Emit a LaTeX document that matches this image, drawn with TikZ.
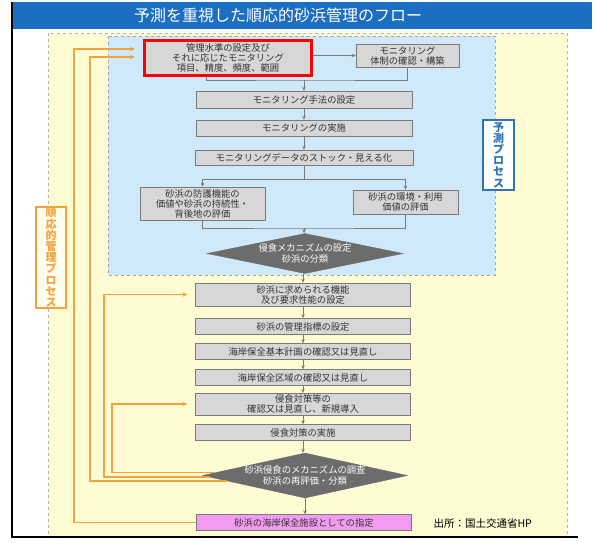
\documentclass[tikz,border=0pt]{standalone}
\usepackage{fontspec}
\setmainfont{Noto Sans CJK JP}
\usetikzlibrary{arrows.meta,calc,shapes.geometric}
\definecolor{titleblue}{HTML}{1C6EC3}
\definecolor{predblue}{HTML}{CFE8FA}
\definecolor{adaptyel}{HTML}{FFFBD3}
\definecolor{boxgray}{HTML}{D7D7D7}
\definecolor{diagray}{HTML}{6C6C6C}
\definecolor{linegray}{HTML}{7A7A7A}
\definecolor{lineor}{HTML}{F4A23C}
\definecolor{facpink}{HTML}{F29BF0}
\definecolor{labblue}{HTML}{2F73B8}
\tikzset{
  stepbox/.style 2 args={draw=linegray,fill=boxgray,text=black!80,align=center,
    font=\fontsize{9.3}{10}\selectfont,inner sep=1pt,minimum width=#1,minimum height=#2},
  decision/.style 2 args={diamond,draw=diagray,fill=diagray,inner sep=0pt,
    minimum width=#1,minimum height=#2},
  dtext/.style={text=white,align=center,font=\fontsize{9.3}{10.5}\selectfont},
  gline/.style={draw=linegray,line width=0.9pt},
  garrow/.style={gline,-{Stealth[length=4pt,width=3.5pt]}},
  orln/.style={draw=lineor,line width=1.8pt,-{Stealth[length=5pt,width=4.5pt]},shorten >=8pt},
  vlabel/.style={fill=white,line width=1.3pt,align=center,inner sep=1pt,
    font=\fontsize{11}{11.2}\selectfont\bfseries}
}

\begin{document}
\begin{tikzpicture}[x=1pt,y=-1pt]
\useasboundingbox (0,0) rectangle (596,542);
\fill[white] (0,0) rectangle (596,542);
\filldraw[fill=adaptyel,draw=gray!60,dashed] (48,33) rectangle (567,537);
\filldraw[fill=predblue,draw=gray!70,dashed] (108,36) rectangle (495,275);
\fill[titleblue] (12,2) rectangle (592,29);
\node[text=white,font=\fontsize{16}{18}\selectfont] (title) at (278,15.5) {予測を重視した順応的砂浜管理のフロー};
\draw[line width=1.5pt] (12,2) -- (12,537) -- (578,537);

\node[vlabel,draw=labblue,text=labblue,minimum width=31,minimum height=70] (predlab) at (498.5,155) {予\\測\\プ\\ロ\\セ\\ス};
\node[vlabel,draw=lineor,text=lineor,fill=white!60!adaptyel,minimum width=30,minimum height=101] (adaptlab) at (51,257.5) {順\\応\\的\\管\\理\\プ\\ロ\\セ\\ス};

\node[stepbox={167}{35},draw=red,line width=3pt] (mgmt) at (228,58) {管理水準の設定及び\\それに応じたモニタリング\\項目、精度、頻度、範囲};
\node[stepbox={103}{23}] (taisei) at (407.5,55.5) {モニタリング\\体制の確認・構築};
\node[stepbox={216}{17}] (shuho) at (304,99.5) {モニタリング手法の設定};
\node[stepbox={216}{16}] (jisshi) at (304,128) {モニタリングの実施};
\node[stepbox={218}{15}] (stock) at (304,157.5) {モニタリングデータのストック・見える化};
\node[stepbox={125}{33}] (bougo) at (202.5,203.5) {砂浜の防護機能の\\価値や砂浜の持続性・\\背後地の評価};
\node[stepbox={105}{24}] (kankyo) at (405.5,202) {砂浜の環境・利用\\価値の評価};
\node[decision={196}{40},label={[dtext]center:侵食メカニズムの設定\\砂浜の分類}] (dia1) at (305,253.5) {};
\node[stepbox={215}{23}] (kinou) at (303,294.5) {砂浜に求められる機能\\及び要求性能の設定};
\node[stepbox={215}{16}] (shihyo) at (303,326.5) {砂浜の管理指標の設定};
\node[stepbox={215}{16}] (kihon) at (303,351.5) {海岸保全基本計画の確認又は見直し};
\node[stepbox={215}{16}] (kuiki) at (303,377.5) {海岸保全区域の確認又は見直し};
\node[stepbox={215}{22}] (taisaku) at (303,404) {侵食対策等の\\確認又は見直し、新規導入};
\node[stepbox={215}{16}] (taisakujis) at (303,432.5) {侵食対策の実施};
\node[decision={205}{45},label={[dtext]center:砂浜侵食のメカニズムの調査\\砂浜の再評価・分類}] (dia2) at (305,475.5) {};
\node[stepbox={215}{16},fill=facpink] (shitei) at (304,522.5) {砂浜の海岸保全施設としての指定};
\node[anchor=west,font=\fontsize{10.5}{12}\selectfont] (source) at (430,524) {出所：国土交通省HP};

\coordinate (j1) at (304,80);
\coordinate (j2) at (304,179);
\coordinate (j3) at (304,228);
\draw[garrow] (taisei.west -| mgmt.east) -- (taisei.west);
\draw[gline] ($(mgmt.south)+(-22,0)$) |- (j1) -| (taisei.south);
\draw[garrow] (j1) -- (shuho.north);
\draw[gline] (stock.south) -- (j2);
\draw[garrow] (j2) -| (bougo.north);
\draw[garrow] (j2) -| (kankyo.north);
\draw[gline] (bougo.south) |- (j3) -| (kankyo.south);
\draw[garrow] (j3) -- (j3 |- dia1.north);
\draw[garrow] (kinou.north |- dia1.south) -- (kinou.north);
\foreach \a/\b in {shuho/jisshi,jisshi/stock,kinou/shihyo,shihyo/kihon,kihon/kuiki,kuiki/taisaku,taisaku/taisakujis,taisakujis/dia2,dia2/shitei}
  \draw[garrow] (\a.south) -- (\a.south |- \b.north);

\coordinate (la) at (74,49);
\coordinate (lb) at (90,57);
\coordinate (lc) at (104,0);
\coordinate (ld) at (112,0);
\draw[orln] (shitei.west) -| (la) -- (la -| mgmt.west);
\draw[orln] (dia2.184) -| (lb) -- (lb -| mgmt.west);
\draw[orln] (dia2.181) -| (lc |- kinou.west) -- (kinou.west);
\draw[orln] (dia2.178) -| (ld |- taisaku.west) -- (taisaku.west);
\end{tikzpicture}
\end{document}
